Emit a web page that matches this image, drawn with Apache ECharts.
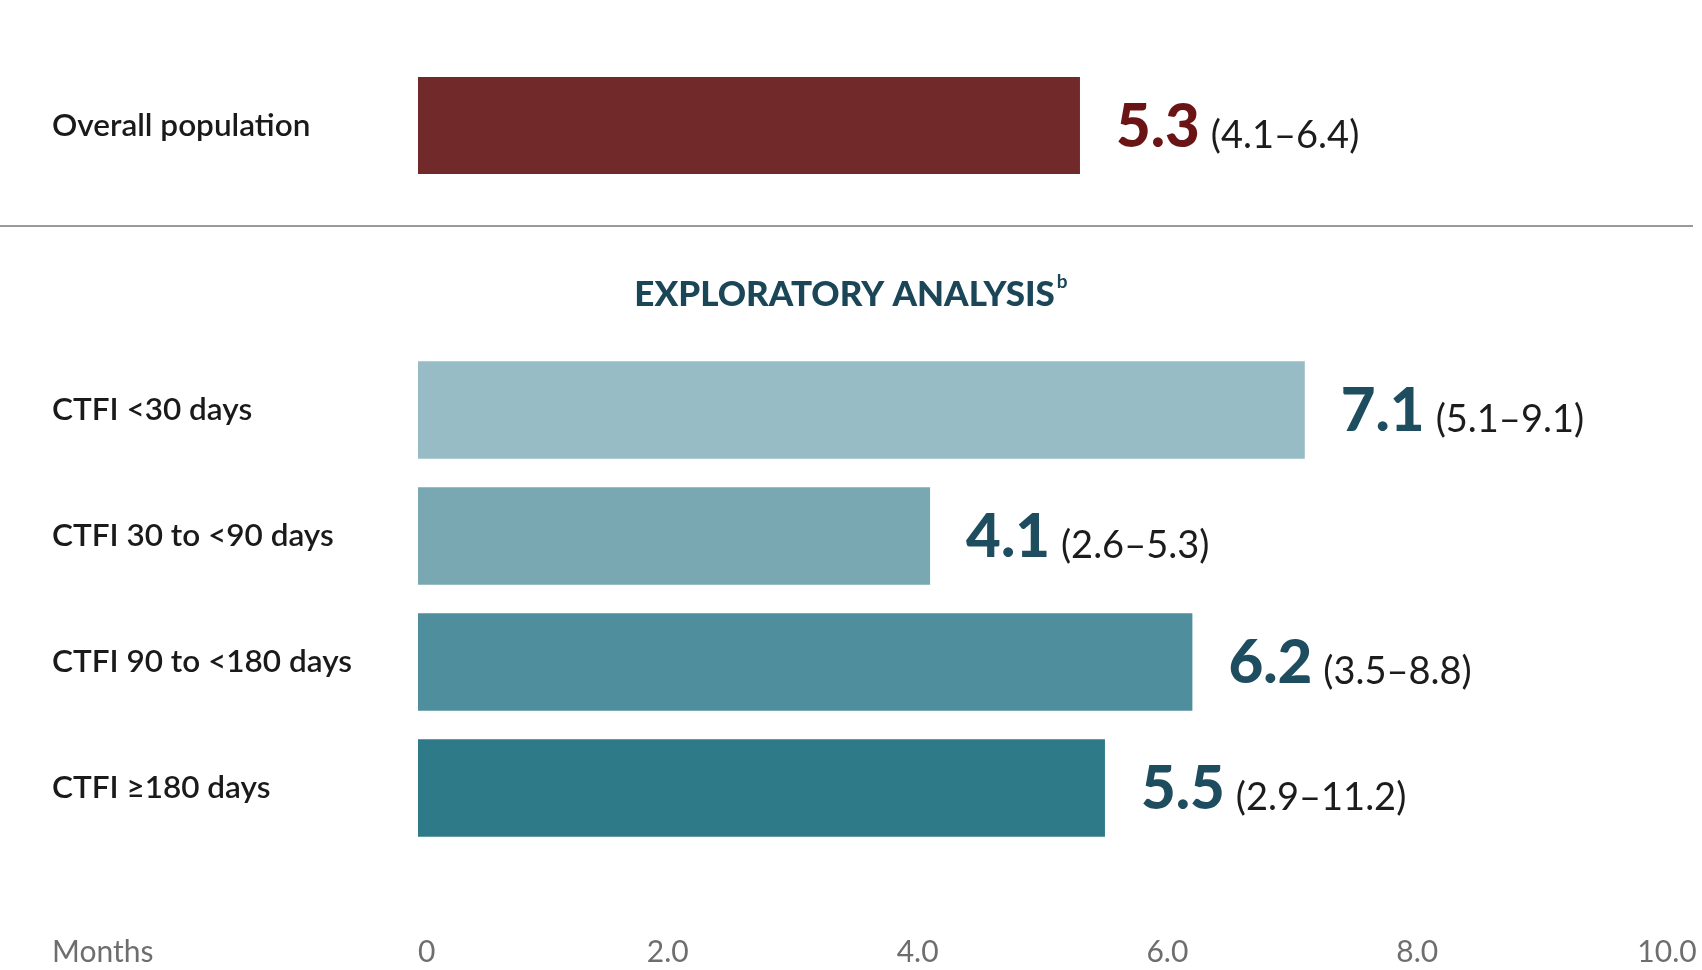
<!DOCTYPE html>
<html>
<head>
<meta charset="utf-8">
<title>CTFI</title>
<script src="https://cdn.jsdelivr.net/npm/echarts@6/dist/echarts.min.js"></script>
<style>
    html, body {margin: 0; padding: 0; background: #ffffff;}
    #main {width: 1702px; height: 970px;}
</style>
</head>
<body>
<div id="main"></div>
<script>
// data
const overallLabels = ['Overall population'];
const overallValues = [5.3];
const overallRanges = ['4.1–6.4'];

const ctfiLabels = ['CTFI <30 days', 'CTFI 30 to <90 days', 'CTFI 90 to <180 days', 'CTFI ≥180 days'];
const ctfiValues = [7.1, 4.1, 6.2, 5.5];
const ctfiRanges = ['5.1–9.1', '2.6–5.3', '3.5–8.8', '2.9–11.2'];

const xTicks = [0, 2, 4, 6, 8, 10];
const xTickLabels = ['0', '2.0', '4.0', '6.0', '8.0', '10.0'];

const sectionTitle = 'EXPLORATORY ANALYSIS';
const unitLabel = 'Months';

// styles
const FONT = 'Lato, "Open Sans", sans-serif';
const HEAVY = '"Lato Black", "Lato Heavy", Lato, sans-serif';
const ctfiColors = ['#98bcc5', '#79a8b3', '#4f8e9c', '#2e7a89'];
const overallColor = '#72292a';

const chart = echarts.init(document.getElementById('main'));

function valueLabel(ranges, numColor) {
    return {
        show: true,
        position: 'right',
        distance: 36,
        formatter: function (p) {
            return '{v|' + p.value + '}{r|(' + ranges[p.dataIndex] + ')}';
        },
        rich: {
            v: {fontFamily: HEAVY, fontSize: 60, fontWeight: 900, color: numColor, verticalAlign: 'bottom', lineHeight: 64},
            r: {fontFamily: FONT, fontSize: 38, fontWeight: 'normal', color: '#1c1c1c', verticalAlign: 'bottom', lineHeight: 64, padding: [0, 0, 3, 11]}
        }
    };
}

const catAxisBase = {
    type: 'category',
    inverse: true,
    axisLine: {show: false},
    axisTick: {show: false},
    axisLabel: {
        align: 'left',
        margin: 366,
        fontFamily: FONT,
        fontSize: 31.5,
        fontWeight: 600,
        color: '#1a1a1a'
    }
};

const option = {
    backgroundColor: '#ffffff',
    animation: false,
    grid: [
        {left: 418, right: 35, top: 77, height: 97},
        {left: 418, right: 35, top: 347, height: 504}
    ],
    xAxis: [
        {gridIndex: 0, type: 'value', min: 0, max: 10, interval: 2, show: false},
        {
            gridIndex: 1, type: 'value', min: 0, max: 10, interval: 2,
            axisLine: {show: false},
            axisTick: {show: false},
            splitLine: {show: false},
            axisLabel: {
                margin: 86,
                alignMinLabel: 'left',
                fontFamily: FONT,
                fontSize: 30,
                color: '#6e6e6e',
                formatter: function (v) {
                    const i = xTicks.indexOf(v);
                    return i >= 0 ? xTickLabels[i] : '';
                }
            }
        }
    ],
    yAxis: [
        Object.assign({}, catAxisBase, {gridIndex: 0, data: overallLabels}),
        Object.assign({}, catAxisBase, {gridIndex: 1, data: ctfiLabels})
    ],
    series: [
        {
            type: 'bar',
            xAxisIndex: 0,
            yAxisIndex: 0,
            data: overallValues,
            barCategoryGap: '0%',
            itemStyle: {color: overallColor},
            label: valueLabel(overallRanges, '#6b1416')
        },
        {
            type: 'bar',
            xAxisIndex: 1,
            yAxisIndex: 1,
            barCategoryGap: '22.5%',
            data: ctfiValues.map(function (v, i) {
                return {value: v, itemStyle: {color: ctfiColors[i]}};
            }),
            label: valueLabel(ctfiRanges, '#1e4d60')
        }
    ],
    graphic: [
        {
            type: 'line',
            shape: {x1: 0, y1: 226, x2: 1693, y2: 226},
            style: {stroke: '#9a9a9a', lineWidth: 2}
        },
        {
            type: 'text',
            x: 851,
            y: 292,
            style: {
                text: '{t|' + sectionTitle + '}{s|b}',
                align: 'center',
                verticalAlign: 'middle',
                rich: {
                    t: {fontFamily: FONT, fontSize: 35, fontWeight: 900, fill: '#1b4658', verticalAlign: 'bottom', lineHeight: 40},
                    s: {fontFamily: FONT, fontSize: 19, fontWeight: 'bold', fill: '#1b4658', verticalAlign: 'top', lineHeight: 40, padding: [0, 0, 0, 2]}
                }
            }
        },
        {
            type: 'text',
            x: 52,
            y: 952,
            style: {
                text: unitLabel,
                align: 'left',
                verticalAlign: 'middle',
                fontFamily: FONT,
                fontSize: 30,
                fill: '#6e6e6e'
            }
        }
    ]
};

chart.setOption(option);
window.onresize = function () {
    chart.resize();
};
</script>
</body>
</html>
